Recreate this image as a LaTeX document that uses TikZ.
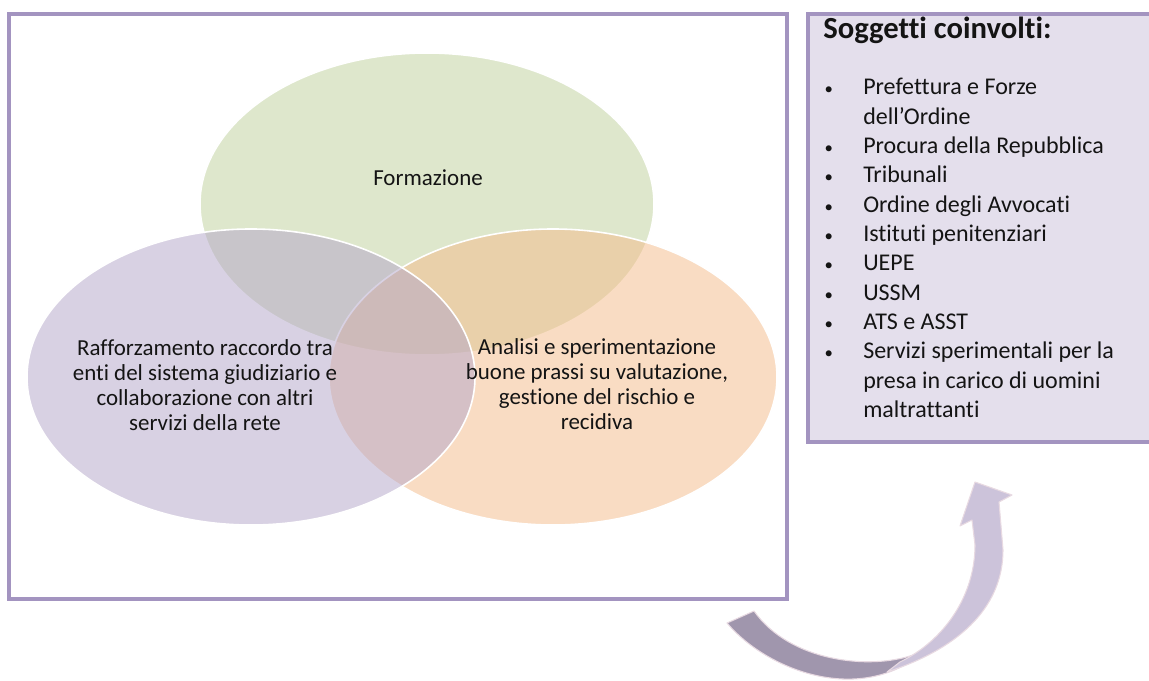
\documentclass[tikz,border=0pt]{standalone}
\usepackage{fontspec}
\setmainfont[Ligatures={NoCommon,NoRequired}]{Carlito}
\usetikzlibrary{shapes.geometric,shadows}

\definecolor{vennGreen}{RGB}{191,209,155}
\definecolor{vennLilac}{RGB}{179,165,201}
\definecolor{vennPeach}{RGB}{245,187,137}
\definecolor{frameLine}{RGB}{163,148,192}
\definecolor{boxFill}{RGB}{228,223,236}
\definecolor{arrowDark}{RGB}{160,150,173}
\definecolor{arrowLight}{RGB}{204,195,218}
\definecolor{arrowEdge}{RGB}{232,218,226}
\definecolor{txt}{RGB}{20,20,20}

\newcommand{\bul}{\makebox[30pt][l]{\hspace{1pt}\scalebox{.7}{\textbullet}}}
\newcommand{\nob}{\hspace*{30pt}}

\tikzset{
  venn/.style={ellipse,draw=white,line width=1.2pt,fill opacity=.5,
    minimum width=336pt,minimum height=222pt,inner sep=0pt},
  panel/.style={rectangle,draw=frameLine,line width=3pt,inner sep=0pt,
    drop shadow={shadow xshift=1.2pt,shadow yshift=-1.2pt,opacity=.3}},
  vtext/.style={align=center,text=txt,inner sep=0pt,
    font=\fontsize{17.2}{18.8}\selectfont},
  arrowpart/.style={draw=arrowEdge,line width=.8pt,line join=round},
}

\begin{document}
\begin{tikzpicture}[x=.75pt,y=-.75pt]
\useasboundingbox (0,0) rectangle (1149,681);

% frame and list box
\node[panel,fill=white,minimum width=583.5pt,minimum height=438.75pt] (frame) at (398,306.5) {};
\node[panel,fill=boxFill,minimum width=258pt,minimum height=321pt] (box) at (980,228) {};

% venn
\node[venn,fill=vennGreen,minimum width=340.5pt,minimum height=226.5pt] (form) at (427,204) {};
\node[venn,fill=vennPeach] (anal) at (553,377) {};
\node[venn,fill=vennLilac] (raff) at (251,377) {};

\node[vtext] (t-form) at (428,178) {Formazione};
\node[vtext] (t-raff) at (205,385) {Rafforzamento raccordo tra\\enti del sistema giudiziario e\\collaborazione con altri\\servizi della rete};
\node[vtext] (t-anal) at (597,384) {Analisi e sperimentazione\\buone prassi su valutazione,\\gestione del rischio e\\recidiva};

% soggetti
\node[anchor=west,text=txt,inner sep=0pt,font=\bfseries\fontsize{23}{26}\selectfont] (head) at (823,30) {Soggetti coinvolti:};
\node[anchor=north west,align=left,text=txt,inner sep=0pt,font=\fontsize{18}{22}\selectfont] (list) at (823,78) {%
\bul Prefettura e Forze\\
\nob dell’Ordine\\
\bul Procura della Repubblica\\
\bul Tribunali\\
\bul Ordine degli Avvocati\\
\bul Istituti penitenziari\\
\bul UEPE\\
\bul USSM\\
\bul ATS e ASST\\
\bul Servizi sperimentali per la\\
\nob presa in carico di uomini\\
\nob maltrattanti};

% curved arrow
\fill[arrowpart,fill=arrowDark] (727,623) .. controls (765,668) and (850,702) .. (913,660)
  -- (913,655) .. controls (870,670) and (790,662) .. (754,611) -- cycle;
\fill[arrowpart,fill=arrowLight] (887,672) .. controls (955,650) and (1003,610) .. (1003,550)
  -- (999,502) -- (1012,495) -- (975,482) -- (960,526) -- (972,520) -- (975,545)
  .. controls (975,595) and (945,640) .. (900,662) -- cycle;
\end{tikzpicture}
\end{document}
